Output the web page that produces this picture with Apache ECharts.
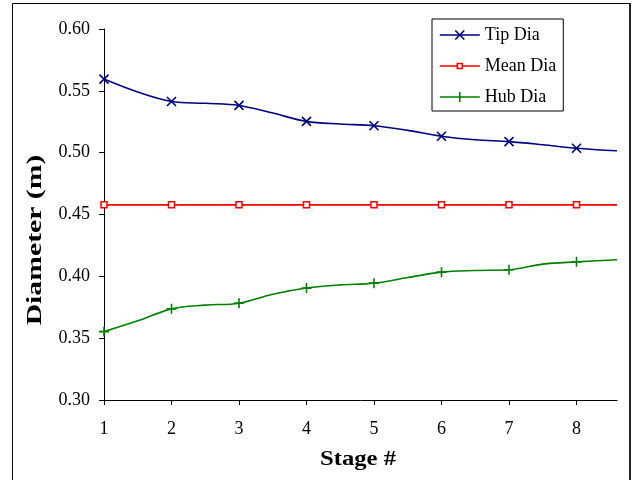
<!DOCTYPE html>
<html>
<head>
<meta charset="utf-8">
<script src="https://cdn.jsdelivr.net/npm/echarts@6/dist/echarts.min.js"></script>
<style>
  html, body { margin: 0; padding: 0; background: #fff; }
  #chart { width: 634px; height: 480px; }
</style>
</head>
<body>
<div id="chart"></div>
<script>
// Stage positions (half stages carry the curve between marked stages)
const stages = [1, 1.5, 2, 2.5, 3, 3.5, 4, 4.5, 5, 5.5, 6, 6.5, 7, 7.5, 8, 8.6];
const stageTicks = [1, 2, 3, 4, 5, 6, 7, 8];

// Diameters in metres
const tipDia  = [0.5595, 0.5490, 0.5414, 0.5399, 0.5382, 0.5320, 0.5253, 0.5232,
                 0.5218, 0.5180, 0.5133, 0.5104, 0.5089, 0.5064, 0.5036, 0.5015];
const meanDia = [0.4578, 0.4578, 0.4578, 0.4578, 0.4578, 0.4578, 0.4578, 0.4578,
                 0.4578, 0.4578, 0.4578, 0.4578, 0.4578, 0.4578, 0.4578, 0.4578];
const hubDia  = [0.3553, 0.3640, 0.3737, 0.3767, 0.3783, 0.3855, 0.3905, 0.3931,
                 0.3945, 0.3990, 0.4034, 0.4047, 0.4053, 0.4099, 0.4117, 0.4134];

const seriesNames = ['Tip Dia', 'Mean Dia', 'Hub Dia'];
const yMin = 0.30, yMax = 0.60, yStep = 0.05;

const FONT = '"Liberation Serif", "Times New Roman", serif';
const TIP = '#000080', MEAN = '#ff0000', HUB = '#008000';

// markers only on whole stages
function toData(values) {
  return stages.map((s, i) => stageTicks.includes(s)
    ? [s, values[i]]
    : { value: [s, values[i]], symbol: 'none' });
}

// legend keys: line with a small marker, in a 40 x 14 box
const FRAME = 'M0,0M40,14';
const tipIcon  = 'path://' + FRAME + 'M0,7L40,7M15.5,2.5L24.5,11.5M24.5,2.5L15.5,11.5';
const meanIcon = 'path://' + FRAME + 'M0,7L17.5,7M22.5,7L40,7M17.5,4.5L22.5,4.5L22.5,9.5L17.5,9.5Z';
const hubIcon  = 'path://' + FRAME + 'M0,7L40,7M20,2L20,12';

const chart = echarts.init(document.getElementById('chart'), null, { renderer: 'canvas' });

const xSymbol = 'path://M0,0L10,10M10,0L0,10';
const plusSymbol = 'path://M5,0L5,10M0,5L10,5';

chart.setOption({
  animation: false,
  backgroundColor: '#fff',
  grid: { left: 104, right: 17, top: 29, bottom: 80, containLabel: false },
  xAxis: {
    type: 'value',
    min: 1, max: 8.6, interval: 1,
    axisLine: { show: true, lineStyle: { color: '#000', width: 1 } },
    axisTick: { show: true, inside: false, length: 5, customValues: stageTicks,
                lineStyle: { color: '#000' } },
    axisLabel: { customValues: stageTicks, margin: 20, fontFamily: FONT, fontSize: 18, color: '#000' },
    splitLine: { show: false }
  },
  yAxis: {
    type: 'value',
    min: yMin, max: yMax, interval: yStep,
    axisLine: { show: true, lineStyle: { color: '#000', width: 1 } },
    axisTick: { show: true, inside: false, length: 5, lineStyle: { color: '#000' } },
    axisLabel: { margin: 14, fontFamily: FONT, fontSize: 18, color: '#000',
                 formatter: v => v.toFixed(2) },
    splitLine: { show: false }
  },
  legend: {
    orient: 'vertical',
    left: 432, top: 19,
    padding: [7, 7, 5, 7],
    borderColor: '#000', borderWidth: 1,
    itemWidth: 40, itemHeight: 14, itemGap: 13,
    textStyle: { fontFamily: FONT, fontSize: 18, color: '#000', lineHeight: 18 },
    data: [
      { name: seriesNames[0], icon: tipIcon,
        itemStyle: { color: TIP, borderColor: TIP, borderWidth: 1.6 } },
      { name: seriesNames[1], icon: meanIcon,
        itemStyle: { color: '#ffffff', borderColor: MEAN, borderWidth: 1.6 } },
      { name: seriesNames[2], icon: hubIcon,
        itemStyle: { color: HUB, borderColor: HUB, borderWidth: 1.6 } }
    ]
  },
  graphic: [
    {
      type: 'text',
      x: 35, y: 240,
      rotation: Math.PI / 2,
      scaleX: 1.35,
      style: {
        text: 'Diameter (m)',
        fontFamily: FONT, fontSize: 22, fontWeight: 'bold', fill: '#000',
        align: 'center', verticalAlign: 'middle'
      }
    },
    {
      type: 'text',
      x: 358, y: 459,
      scaleX: 1.12,
      style: {
        text: 'Stage #',
        fontFamily: FONT, fontSize: 22, fontWeight: 'bold', fill: '#000',
        align: 'center', verticalAlign: 'middle'
      }
    },
    {
      type: 'rect',
      shape: { x: 12.5, y: 3.5, width: 617, height: 520 },
      style: { fill: 'none', stroke: '#000', lineWidth: 1 },
      silent: true
    },
    {
      type: 'line',
      shape: { x1: 630, y1: 3, x2: 630, y2: 480 },
      style: { stroke: '#222', lineWidth: 2 },
      silent: true
    }
  ],
  series: [
    {
      name: seriesNames[0], type: 'line', smooth: 0.35,
      data: toData(tipDia),
      symbol: xSymbol, symbolSize: 9,
      lineStyle: { color: TIP, width: 1.6 },
      itemStyle: { color: TIP, borderColor: TIP, borderWidth: 1.6 }
    },
    {
      name: seriesNames[1], type: 'line', smooth: 0.35,
      data: toData(meanDia),
      symbol: 'rect', symbolSize: 6,
      lineStyle: { color: MEAN, width: 1.6 },
      itemStyle: { color: '#ffffff', borderColor: MEAN, borderWidth: 1.5 }
    },
    {
      name: seriesNames[2], type: 'line', smooth: 0.35,
      data: toData(hubDia),
      symbol: plusSymbol, symbolSize: 10,
      lineStyle: { color: HUB, width: 1.6 },
      itemStyle: { color: HUB, borderColor: HUB, borderWidth: 1.6 }
    }
  ]
});
</script>
</body>
</html>
